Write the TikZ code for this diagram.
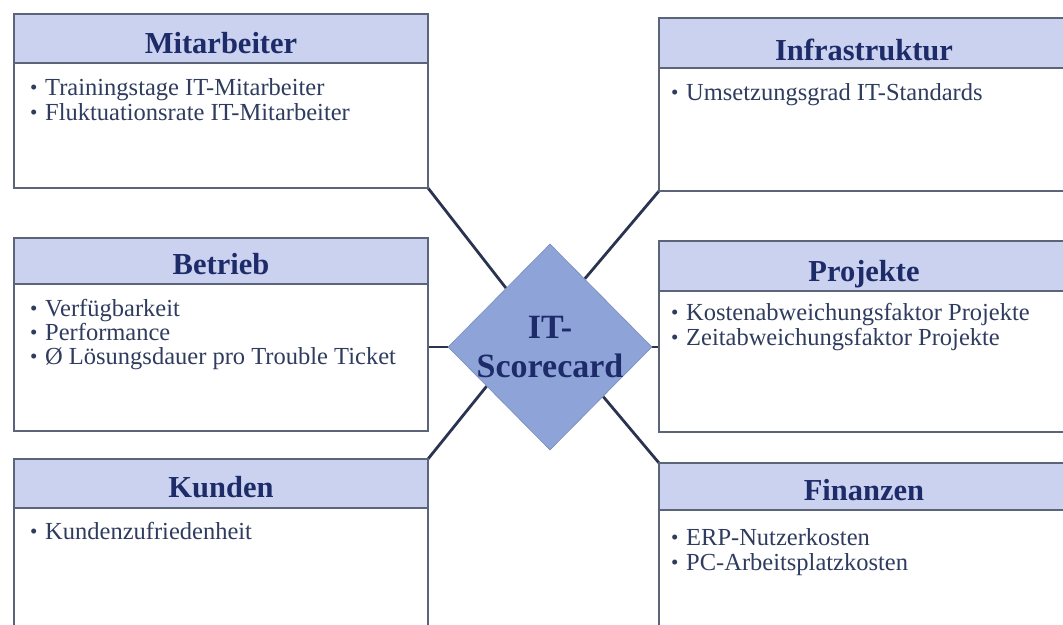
\documentclass[tikz,border=0pt]{standalone}
\usepackage{fontspec}
\setmainfont{Liberation Serif}
\usetikzlibrary{shapes.geometric,calc,backgrounds}

\definecolor{framec}{HTML}{5B6479}
\definecolor{headfill}{HTML}{CBD2EF}
\definecolor{diafill}{HTML}{8EA4D9}
\definecolor{titlec}{HTML}{1E2B69}
\definecolor{itemc}{HTML}{2F3C5E}
\definecolor{linkc}{HTML}{2A3450}

\newcommand{\itm}[1]{\makebox[15pt][l]{\raisebox{0.5pt}{\fontsize{21}{21}\selectfont•}}#1}

\begin{document}
\begin{tikzpicture}[x=1pt,y=-1pt,
  panel/.style={draw=framec, line width=2pt, fill=white, rectangle,
    inner sep=0pt, outer sep=0pt, anchor=north west},
  headbar/.style={panel, fill=headfill},
  title/.style={anchor=base, inner sep=0pt, text=titlec,
    font=\fontsize{30.5}{36}\selectfont\bfseries},
  item/.style={anchor=base west, inner sep=0pt, text=itemc,
    font=\fontsize{24.5}{25}\selectfont},
  link/.style={draw=linkc, line width=2.8pt},
  centre/.style={diamond, draw=diafill!85!black, line width=0.6pt, fill=diafill,
    inner sep=0pt, minimum width=204pt, minimum height=206pt},
  centretext/.style={inner sep=0pt, text=titlec, align=center,
    font=\fontsize{34}{39}\selectfont\bfseries}
]
\useasboundingbox (0,0) rectangle (1063,624);
\clip (0,0) rectangle (1063,624);

% ---- left column ----
\node[panel, minimum width=414pt, minimum height=174pt] (mit) at (14,14) {};
\node[headbar, minimum width=414pt, minimum height=49pt] (mith) at (14,14) {};
\node[title] (mitt) at (221,53) {Mitarbeiter};
\node[item] (mit1) at (30,95) {\itm{Trainingstage IT-Mitarbeiter}};
\node[item] (mit2) at (30,120) {\itm{Fluktuationsrate IT-Mitarbeiter}};

\node[panel, minimum width=414pt, minimum height=193pt] (bet) at (14,238) {};
\node[headbar, minimum width=414pt, minimum height=46pt] (beth) at (14,238) {};
\node[title] (bett) at (221,274) {Betrieb};
\node[item] (bet1) at (30,316) {\itm{Verfügbarkeit}};
\node[item] (bet2) at (30,340) {\itm{Performance}};
\node[item] (bet3) at (30,364) {\itm{Ø Lösungsdauer pro Trouble Ticket}};

\node[panel, minimum width=414pt, minimum height=200pt] (kun) at (14,459) {};
\node[headbar, minimum width=414pt, minimum height=49pt] (kunh) at (14,459) {};
\node[title] (kunt) at (221,497) {Kunden};
\node[item] (kun1) at (30,539) {\itm{Kundenzufriedenheit}};

% ---- right column ----
\node[panel, minimum width=409pt, minimum height=173pt] (inf) at (659,18) {};
\node[headbar, minimum width=409pt, minimum height=50pt] (infh) at (659,18) {};
\node[title] (inft) at (864,60) {Infrastruktur};
\node[item] (inf1) at (671,100) {\itm{Umsetzungsgrad IT-Standards}};

\node[panel, minimum width=409pt, minimum height=191pt] (pro) at (659,241) {};
\node[headbar, minimum width=409pt, minimum height=50pt] (proh) at (659,241) {};
\node[title] (prot) at (864,281) {Projekte};
\node[item] (pro1) at (671,320) {\itm{Kostenabweichungsfaktor Projekte}};
\node[item] (pro2) at (671,345) {\itm{Zeitabweichungsfaktor Projekte}};

\node[panel, minimum width=409pt, minimum height=200pt] (fin) at (659,463) {};
\node[headbar, minimum width=409pt, minimum height=47pt] (finh) at (659,463) {};
\node[title] (fint) at (864,500) {Finanzen};
\node[item] (fin1) at (671,545) {\itm{ERP-Nutzerkosten}};
\node[item] (fin2) at (671,570) {\itm{PC-Arbeitsplatzkosten}};

% ---- centre diamond ----
\node[centre] (dia) at (550,347) {};
\node[centretext, anchor=base] (diat1) at (550,338) {IT-};
\node[centretext, anchor=base] (diat2) at (550,377) {Scorecard};

\coordinate (tl) at ($(dia.west)!0.57!(dia.north)$);
\coordinate (tr) at ($(dia.east)!0.66!(dia.north)$);
\coordinate (bl) at ($(dia.west)!0.38!(dia.south)$);
\coordinate (br) at ($(dia.east)!0.48!(dia.south)$);

% connectors sit behind the boxes and the diamond
\begin{scope}[on background layer]
\fill[white] (0,0) rectangle (1063,624);
\draw[link] (mit.south east) -- (tl);
\draw[link] (inf.south west) -- (tr);
\draw[link] (kun.north east) -- (bl);
\draw[link] (fin.north west) -- (br);
\draw[link] (dia.west) -- (dia.west -| bet.east);
\draw[link] (dia.east) -- (dia.east -| pro.west);
\end{scope}
\end{tikzpicture}
\end{document}
